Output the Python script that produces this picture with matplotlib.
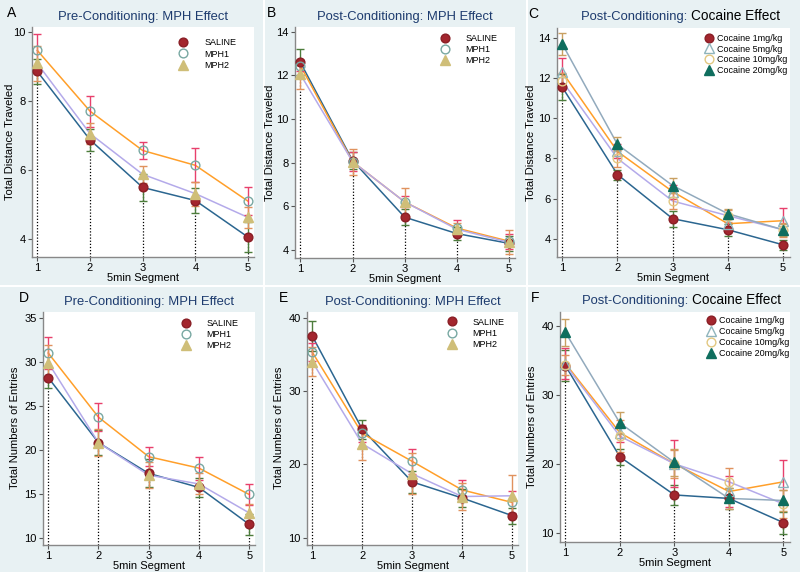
import matplotlib.pyplot as plt
from matplotlib.lines import Line2D

plt.rcParams['font.family'] = ['Liberation Sans', 'DejaVu Sans']

segments = [1, 2, 3, 4, 5]
mph_groups = ['SALINE', 'MPH1', 'MPH2']
coc_groups = ['Cocaine 1mg/kg', 'Cocaine 5mg/kg', 'Cocaine 10mg/kg', 'Cocaine 20mg/kg']

# A: pre-conditioning distance
A_saline = [8.85, 6.87, 5.49, 5.11, 4.05]
A_saline_err = [0.35, 0.32, 0.38, 0.36, 0.44]
A_mph1 = [9.46, 7.70, 6.56, 6.13, 5.09]
A_mph1_err = [0.48, 0.45, 0.26, 0.49, 0.40]
A_mph2 = [9.08, 7.05, 5.87, 5.31, 4.62]
A_mph2_err = [0.50, 0.30, 0.25, 0.35, 0.30]

# B: post-conditioning distance
B_saline = [12.6, 8.10, 5.50, 4.75, 4.30]
B_saline_err = [0.60, 0.40, 0.38, 0.30, 0.35]
B_mph1 = [12.45, 8.05, 6.20, 5.00, 4.40]
B_mph1_err = [0.25, 0.45, 0.25, 0.35, 0.35]
B_mph2 = [12.05, 8.05, 6.20, 4.95, 4.35]
B_mph2_err = [0.65, 0.60, 0.65, 0.30, 0.55]

# C: cocaine distance
C_c1 = [11.55, 7.20, 5.00, 4.45, 3.70]
C_c1_err = [0.65, 0.25, 0.40, 0.30, 0.25]
C_c5 = [12.30, 8.35, 6.35, 4.75, 4.90]
C_c5_err = [0.70, 0.35, 0.35, 0.30, 0.65]
C_c10 = [11.85, 8.00, 5.88, 5.15, 4.45]
C_c10_err = [0.40, 0.40, 0.40, 0.30, 0.35]
C_c20 = [13.70, 8.70, 6.65, 5.25, 4.45]
C_c20_err = [0.55, 0.35, 0.38, 0.25, 0.30]

# D: pre-conditioning entries
D_saline = [28.2, 20.8, 17.3, 15.7, 11.5]
D_saline_err = [1.2, 1.4, 1.6, 1.1, 1.2]
D_mph1 = [31.0, 23.7, 19.2, 17.9, 14.9]
D_mph1_err = [1.8, 1.6, 1.1, 1.3, 1.2]
D_mph2 = [29.9, 20.8, 17.1, 16.1, 12.8]
D_mph2_err = [2.0, 1.5, 1.5, 1.2, 1.0]

# E: post-conditioning entries
E_saline = [37.5, 24.8, 17.6, 15.4, 13.0]
E_saline_err = [2.0, 1.3, 1.5, 1.2, 1.1]
E_mph1 = [35.3, 24.2, 20.4, 16.5, 14.8]
E_mph1_err = [1.2, 1.1, 1.7, 1.3, 1.5]
E_mph2 = [34.0, 22.8, 18.7, 15.6, 15.7]
E_mph2_err = [2.0, 2.2, 2.8, 1.8, 2.9]

# F: cocaine entries
F_c1 = [34.2, 21.0, 15.5, 15.0, 11.5]
F_c1_err = [2.2, 1.2, 1.4, 1.5, 1.6]
F_c5 = [34.5, 24.5, 20.0, 16.0, 17.4]
F_c5_err = [2.2, 1.3, 3.4, 2.2, 3.2]
F_c10 = [34.3, 24.0, 20.0, 17.4, 14.2]
F_c10_err = [1.5, 2.3, 2.0, 2.0, 2.0]
F_c20 = [39.0, 25.9, 20.2, 15.0, 14.7]
F_c20_err = [2.0, 1.6, 2.0, 1.5, 1.5]

navy = '#1d3b6e'
blue_ln = '#2b6690'
orange_ln = '#ff9f2a'
lav_ln = '#b4aaea'
grayblue_ln = '#92aabd'

# marker style, line colour, errorbar colour per group
mph_style = [
    dict(marker='o', mfc='#a3262e', mec='#8a1f26', ms=6.3),
    dict(marker='o', mfc='none', mec='#78a8a2', ms=6.3, mew=1.0),
    dict(marker='^', mfc='#cfbe78', mec='#cfbe78', ms=6.5),
]
mph_lines = [blue_ln, orange_ln, lav_ln]
mph_err = ['#4d7d3c', '#e8406c', '#e0925e']

coc_style = [
    dict(marker='o', mfc='#a3262e', mec='#8a1f26', ms=6.3),
    dict(marker='^', mfc='none', mec='#8fb4bc', ms=6.5, mew=1.0),
    dict(marker='o', mfc='none', mec='#e2c882', ms=6.3, mew=1.0),
    dict(marker='^', mfc='#0f6e5e', mec='#0f6e5e', ms=6.5),
]
coc_lines = [blue_ln, orange_ln, lav_ln, grayblue_ln]
coc_err = ['#4d7d3c', '#e8406c', '#e0925e', '#c9a062']

fig = plt.figure(figsize=(8, 5.72), dpi=100)
fig.patch.set_facecolor('#e8f1f3')

# white gaps between the six panels, kept behind the axes and their labels
for xx in [0.33, 0.659]:
    fig.add_artist(Line2D([xx, xx], [0, 1], color='white', lw=1.5, zorder=-1))
fig.add_artist(Line2D([0, 1], [0.5, 0.5], color='white', lw=1.5, zorder=-1))

panels = [
    ('A', [0.040, 0.551, 0.278, 0.402], 'Pre-Conditioning: MPH Effect', None,
     'Total Distance Traveled', -0.077, (3.48, 10.14), [4, 6, 8, 10],
     [A_saline, A_mph1, A_mph2], [A_saline_err, A_mph1_err, A_mph2_err], 'mph', (0.66, 0.95)),
    ('B', [0.369, 0.549, 0.275, 0.404], 'Post-Conditioning: MPH Effect', None,
     'Total Distance Traveled', -0.092, (3.63, 14.23), [4, 6, 8, 10, 12, 14],
     [B_saline, B_mph1, B_mph2], [B_saline_err, B_mph1_err, B_mph2_err], 'mph', (0.66, 0.97)),
    ('C', [0.696, 0.551, 0.291, 0.400], 'Post-Conditioning:', 'Cocaine Effect',
     'Total Distance Traveled', -0.088, (3.1, 14.5), [4, 6, 8, 10, 12, 14],
     [C_c1, C_c5, C_c10, C_c20], [C_c1_err, C_c5_err, C_c10_err, C_c20_err], 'coc', (0.635, 0.975)),
    ('D', [0.054, 0.048, 0.265, 0.407], 'Pre-Conditioning: MPH Effect', None,
     'Total Numbers of Entries', -0.108, (9.2, 35.7), [10, 15, 20, 25, 30, 35],
     [D_saline, D_mph1, D_mph2], [D_saline_err, D_mph1_err, D_mph2_err], 'mph', (0.65, 0.97)),
    ('E', [0.384, 0.048, 0.2635, 0.407], 'Post-Conditioning: MPH Effect', None,
     'Total Numbers of Entries', -0.112, (9.05, 40.8), [10, 20, 30, 40],
     [E_saline, E_mph1, E_mph2], [E_saline_err, E_mph1_err, E_mph2_err], 'mph', (0.665, 0.975)),
    ('F', [0.700, 0.0525, 0.2875, 0.4025], 'Post-Conditioning:', 'Cocaine Effect',
     'Total Numbers of Entries', -0.10, (8.7, 42.0), [10, 20, 30, 40],
     [F_c1, F_c5, F_c10, F_c20], [F_c1_err, F_c5_err, F_c10_err, F_c20_err], 'coc', (0.635, 0.98)),
]

for letter, rect, title1, title2, ylabel, ylab_x, ylim, yticks, series, errs, kind, leg_pos in panels:
    ax = fig.add_axes(rect)
    ax.set_facecolor('white')
    if kind == 'mph':
        names, styles, lcols, ecols = mph_groups, mph_style, mph_lines, mph_err
    else:
        names, styles, lcols, ecols = coc_groups, coc_style, coc_lines, coc_err

    # dotted drop lines down to the axis
    ax.vlines(segments, ylim[0], series[0], colors='black', linestyles=(0, (1, 1.5)), lw=0.9, zorder=1)

    for vals, lc in zip(series, lcols):
        ax.plot(segments, vals, color=lc, lw=1.1, zorder=2)
    for vals, err, ec in zip(series, errs, ecols):
        ax.errorbar(segments, vals, yerr=err, fmt='none', ecolor=ec, elinewidth=1.0,
                    capsize=2.6, capthick=1.0, zorder=3)
    for vals, st in zip(series, styles):
        ax.plot(segments, vals, linestyle='none', zorder=4, **st)

    handles = [Line2D([], [], linestyle='none', **st) for st in styles]
    ax.legend(handles, names, loc='upper left', bbox_to_anchor=leg_pos, frameon=False,
              fontsize=6.5, handlelength=1.0, handletextpad=1.8 if kind == 'mph' else 0.4,
              labelspacing=0.25 if kind == 'mph' else 0.2, borderaxespad=0, borderpad=0)

    ax.set_xlim(0.9, 5.12)
    ax.set_ylim(*ylim)
    ax.set_xticks(segments)
    ax.set_yticks(yticks)
    ax.tick_params(labelsize=8, length=3, width=0.8, color='#555555', pad=1.5)
    for side in ['top', 'right']:
        ax.spines[side].set_visible(False)
    for side in ['left', 'bottom']:
        ax.spines[side].set_color('#888888')
        ax.spines[side].set_linewidth(1.0)
    ax.set_xlabel('5min Segment', fontsize=8, labelpad=0)
    ax.set_ylabel(ylabel, fontsize=8)
    ax.yaxis.set_label_coords(ylab_x, 0.5)

    if title2 is None:
        ax.set_title(title1, fontsize=9.4, color=navy, pad=5)
    else:
        ax.text(0.575, 1.02, title1 + ' ', transform=ax.transAxes, ha='right', va='bottom',
                fontsize=9.4, color=navy)
        ax.text(0.575, 1.02, title2, transform=ax.transAxes, ha='left', va='bottom',
                fontsize=9.8, color='black')

    fig.text(rect[0] - (0.031 if rect[0] < 0.1 else 0.036), rect[1] + rect[3] + 0.024,
             letter, fontsize=10, color='black', ha='left', va='center')

fig.savefig('out.png', dpi=100, facecolor=fig.get_facecolor())
